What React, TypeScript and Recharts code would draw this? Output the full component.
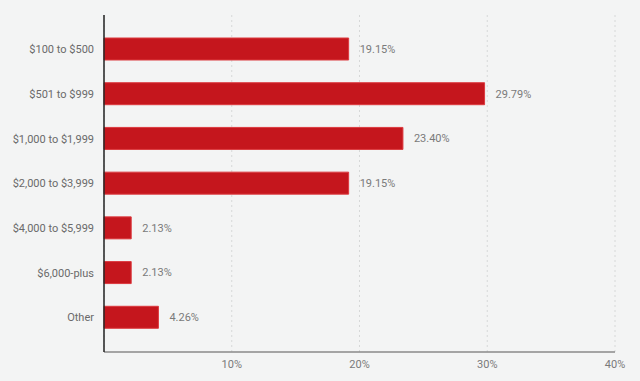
import { BarChart, Bar, XAxis, YAxis, CartesianGrid, LabelList } from 'recharts';

const categories = [
  '$100 to $500',
  '$501 to $999',
  '$1,000 to $1,999',
  '$2,000 to $3,999',
  '$4,000 to $5,999',
  '$6,000-plus',
  'Other',
];
const shares = [19.15, 29.79, 23.4, 19.15, 2.13, 2.13, 4.26];
const xTicks = [10, 20, 30, 40];

const data = categories.map((name, i) => ({ name, share: shares[i] }));

const FONT = 'Roboto, "Noto Sans", sans-serif';

// plain single-line tick so long labels don't wrap
function CategoryTick(props: any) {
  const { x, y, payload } = props;
  return (
    <text
      x={x - 1}
      y={y}
      dy="0.35em"
      textAnchor="end"
      fill="#6a6a6a"
      fontSize={11}
      fontFamily={FONT}
    >
      {payload.value}
    </text>
  );
}

export default function App() {
  return (
    <div
      style={{
        position: 'absolute',
        left: 0,
        top: 0,
        width: 640,
        height: 381,
        background: '#f3f4f4',
        fontFamily: FONT,
      }}
    >
      <BarChart
        width={640}
        height={381}
        data={data}
        layout="vertical"
        margin={{ top: 15, right: 25, bottom: 0, left: 0 }}
        barCategoryGap={0}
      >
        <CartesianGrid
          horizontal={false}
          stroke="#d6d8d8"
          strokeDasharray="2 3"
        />
        <XAxis
          type="number"
          domain={[0, 40]}
          ticks={xTicks}
          tickFormatter={(v: number) => `${v}%`}
          axisLine={{ stroke: '#8a8a8a', strokeWidth: 1.5 }}
          tickLine={false}
          height={29}
          tick={{ fill: '#7a7a7a', fontSize: 11, fontFamily: FONT }}
        />
        <YAxis
          type="category"
          dataKey="name"
          width={104}
          axisLine={{ stroke: '#222', strokeWidth: 1.5 }}
          tickLine={false}
          tickMargin={3}
          padding={{ top: 12, bottom: 12 }}
          tick={<CategoryTick />}
        />
        <Bar
          dataKey="share"
          fill="#c5161d"
          stroke="#dc3a3f"
          strokeWidth={1}
          barSize={22}
          isAnimationActive={false}
        >
          <LabelList
            dataKey="share"
            position="right"
            offset={11}
            formatter={(v: number) => `${v.toFixed(2)}%`}
            style={{ fill: '#7a7a7a', fontSize: 11, fontFamily: FONT }}
          />
        </Bar>
      </BarChart>
    </div>
  );
}
